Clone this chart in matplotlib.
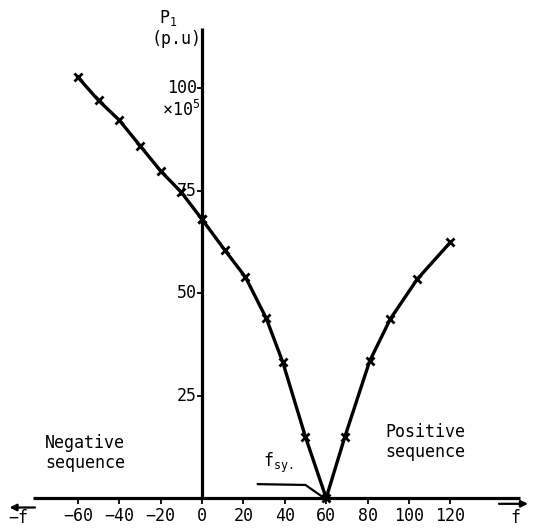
import matplotlib
matplotlib.use("Agg")
import matplotlib.pyplot as plt

# ---- data ----
f_neg = [-60, -50, -40, -30, -20, -10, 0]
p_neg = [102.7, 97.0, 92.2, 86.0, 79.8, 74.6, 68.0]
f_pos = [0, 11, 21, 31, 39, 50, 60, 69, 81, 91, 104, 120]
p_pos = [68.0, 60.5, 53.9, 43.9, 33.2, 14.9, 0.0, 14.9, 33.4, 43.7, 53.4, 62.4]
x_ticks = [-60, -40, -20, 0, 20, 40, 60, 80, 100, 120]
y_ticks = [25, 50, 75, 100]
f_sync = 60

plt.rcParams['font.family'] = ['DejaVu Sans Mono']
plt.rcParams['mathtext.fontset'] = 'custom'
plt.rcParams['mathtext.rm'] = 'DejaVu Sans Mono'
plt.rcParams['mathtext.it'] = 'DejaVu Sans Mono'

fig = plt.figure(figsize=(5.35, 5.28), dpi=100)
ax = fig.add_axes([0, 0, 1, 1])
ax.set_xlim(-97.6, 160.9)
ax.set_ylim(-7.3, 121.5)
ax.axis('off')

lw = 2.3
# axes lines
ax.plot([-81.6, 153.6], [0, 0], color='black', lw=lw, solid_capstyle='butt')
ax.plot([0, 0], [0, 114.6], color='black', lw=lw, solid_capstyle='butt')
ax.vlines(x_ticks, -1.4, 0, color='black', lw=1.3)
ax.hlines(y_ticks, -2.6, 0, color='black', lw=1.3)

fs = 12
for t in x_ticks:
    ax.text(t, -4.3, str(t).replace('-', '\u2212'), ha='center', va='center', fontsize=fs)
for t in y_ticks:
    ax.text(-2.6, t, str(t), ha='right', va='center', fontsize=fs)

# curve
ax.plot(f_neg, p_neg, color='black', lw=2.4, marker='x', ms=6, mew=2.0)
ax.plot(f_pos, p_pos, color='black', lw=2.4, marker='x', ms=6, mew=2.0)

# labels
ax.text(-16.4, 117.1, r'P$_1$', ha='center', va='center', fontsize=fs)
ax.text(-12.1, 112.0, '(p.u)', ha='center', va='center', fontsize=fs)
ax.text(-1.0, 94.6, r'$\times$10$^5$', ha='right', va='center', fontsize=fs)

ax.text(-56.5, 11.0, 'Negative\nsequence', ha='center', va='center', fontsize=fs, linespacing=1.2)
ax.text(107.7, 13.7, 'Positive\nsequence', ha='center', va='center', fontsize=fs, linespacing=1.2)

ax.text(36.7, 8.6, r'f$_{sy.}$', ha='center', va='center', fontsize=fs)
# leader line from the label to the synchronous point
ax.plot([27, 50, f_sync - 1.5], [3.4, 3.2, 0.2], color='black', lw=1.6)

# direction arrows
ax.annotate('', xy=(-93.0, -2.3), xytext=(-80.7, -2.3),
            arrowprops=dict(arrowstyle='-|>', color='black', lw=1.6, mutation_scale=10,
                            shrinkA=0, shrinkB=0))
ax.text(-88.9, -4.8, '\u2212f', ha='center', va='center', fontsize=fs)
ax.annotate('', xy=(157.5, -1.4), xytext=(143.5, -1.4),
            arrowprops=dict(arrowstyle='-|>', color='black', lw=1.6, mutation_scale=10,
                            shrinkA=0, shrinkB=0))
ax.text(151.2, -4.8, 'f', ha='center', va='center', fontsize=fs)

fig.savefig('out.png', dpi=100)
